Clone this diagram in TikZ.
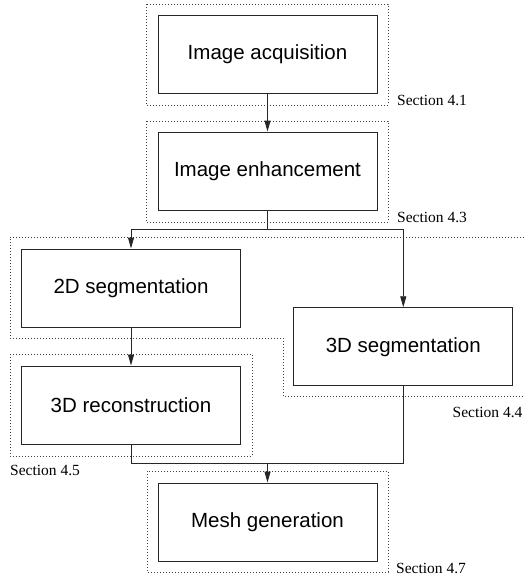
\documentclass[tikz,border=0pt]{standalone}
\usepackage{fontspec}
\setmainfont{Liberation Serif}
\setsansfont{Liberation Sans}
\usetikzlibrary{arrows.meta}

\begin{document}
\begin{tikzpicture}[x=1pt,y=-1pt,
  stage/.style={draw=black!85, line width=0.9pt, minimum width=219pt, minimum height=78pt, inner sep=0pt, font=\sffamily\fontsize{20.5}{24}\selectfont},
  group/.style={draw=black!75, line width=0.8pt, dash pattern=on 0.8pt off 2.2pt},
  flow/.style={draw=black!85, line width=0.9pt},
  arr/.style={flow, -{Triangle[length=11pt,width=6pt]}},
  sec/.style={anchor=base west, inner sep=0pt, font=\fontsize{15.5}{18}\selectfont}]
\useasboundingbox (0,0) rectangle (523,576);

%% dotted groups
\draw[group] (146,4) rectangle (388,105);
\draw[group] (146,121) rectangle (388,222);
\draw[group] (530,237) -- (10,237) -- (10,338) -- (283,338) -- (283,396) -- (530,396);
\draw[group] (10,354) rectangle (252,456);
\draw[group] (147,471) rectangle (388,572);

%% stages
\node[stage] (acq) at (267.5,54) {Image acquisition};
\node[stage] (enh) at (267.5,171) {Image enhancement};
\node[stage] (seg2) at (131,288) {2D segmentation};
\node[stage] (seg3) at (403.3,346.7) {3D segmentation};
\node[stage] (rec) at (131,405) {3D reconstruction};
\node[stage] (mesh) at (267.5,522) {Mesh generation};

%% section labels
\node[sec] (s41) at (397,105.7) {Section 4.1};
\node[sec] (s43) at (397,222) {Section 4.3};
\node[sec] (s44) at (452.5,417) {Section 4.4};
\node[sec] (s45) at (10,475) {Section 4.5};
\node[sec] (s47) at (396,573) {Section 4.7};

%% connectors
\coordinate (split) at (267.5,229);
\coordinate (merge) at (267.5,463);
\draw[arr] (acq) -- (enh);
\draw[flow] (enh.south) -- (split);
\draw[arr] (split) -| (seg2.north);
\draw[arr] (split) -| (seg3.north);
\draw[arr] (seg2) -- (rec);
\draw[flow] (rec.south) |- (merge);
\draw[flow] (seg3.south) |- (merge);
\draw[arr] (merge) -- (mesh.north);
\end{tikzpicture}
\end{document}
